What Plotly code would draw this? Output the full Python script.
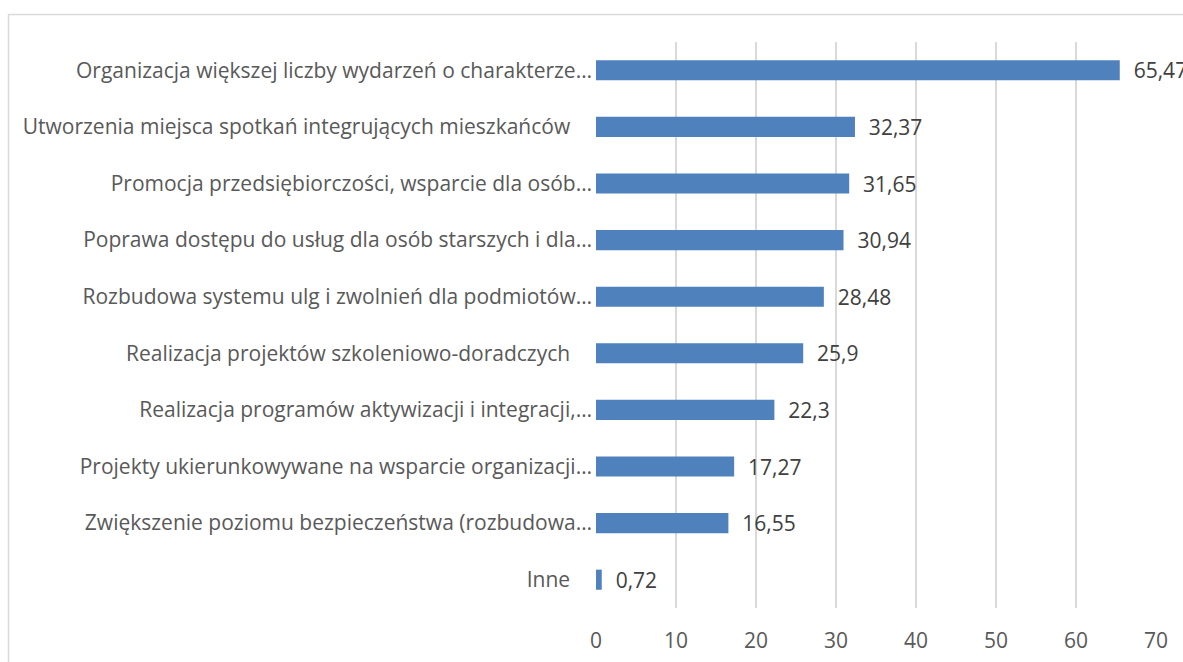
import plotly.graph_objects as go

categories = [
    "Organizacja większej liczby wydarzeń o charakterze…",
    "Utworzenia miejsca spotkań integrujących mieszkańców ",
    "Promocja przedsiębiorczości, wsparcie dla osób…",
    "Poprawa dostępu do usług dla osób starszych i dla…",
    "Rozbudowa systemu ulg i zwolnień dla podmiotów…",
    "Realizacja projektów szkoleniowo-doradczych ",
    "Realizacja programów aktywizacji i integracji,…",
    "Projekty ukierunkowywane na wsparcie organizacji…",
    "Zwiększenie poziomu bezpieczeństwa (rozbudowa…",
    "Inne ",
]
values = [65.47, 32.37, 31.65, 30.94, 28.48, 25.9, 22.3, 17.27, 16.55, 0.72]
tick_values = [0, 10, 20, 30, 40, 50, 60, 70]

FONT = "Open Sans"
FS = 21
W, H = 1183, 662
L, R, T, B = 596, 27, 42, 54

# trailing space in Excel label -> visible gap
disp = [c[:-1] + "\u00a0" * 4 if c.endswith(" ") else c for c in categories]
texts = ["\u00a0\u00a0" + str(v).replace(".", ",") for v in values]

fig = go.Figure(go.Bar(
    x=values, y=disp, orientation="h",
    marker=dict(color="#4f81bd", line=dict(width=0)),
    text=texts, textposition="outside", cliponaxis=False,
    constraintext="none",
    textfont=dict(family=FONT, size=FS, color="#404040"),
    hoverinfo="skip",
))

pw = W - L - R
ph = H - T - B
fig.add_shape(type="rect", xref="paper", yref="paper",
              x0=(8.5 - L) / pw, x1=1.3, y0=-0.3, y1=(H - B - 14.5) / ph,
              line=dict(color="#d9d9d9", width=1.5), fillcolor="rgba(0,0,0,0)", layer="below")

fig.update_layout(
    width=W, height=H,
    margin=dict(l=L, r=R, t=T, b=B, autoexpand=False),
    paper_bgcolor="white", plot_bgcolor="white",
    bargap=0.645, showlegend=False,
    font=dict(family=FONT, size=FS, color="#595959"),
    xaxis=dict(range=[0, 70], tickvals=tick_values, ticktext=[str(t) for t in tick_values],
               showgrid=True, gridcolor="#d9d9d9", gridwidth=1.5, zeroline=False,
               showline=False, ticks="", ticklabelstandoff=18,
               tickfont=dict(family=FONT, size=FS, color="#595959")),
    yaxis=dict(autorange="reversed", showgrid=False, showline=False, ticks="",
               ticklabelstandoff=3,
               tickfont=dict(family=FONT, size=FS, color="#595959")),
)

fig.write_html("out.html",
               config={"displayModeBar": False},
               post_script="document.body.style.margin='0';document.body.style.overflow='hidden';")
